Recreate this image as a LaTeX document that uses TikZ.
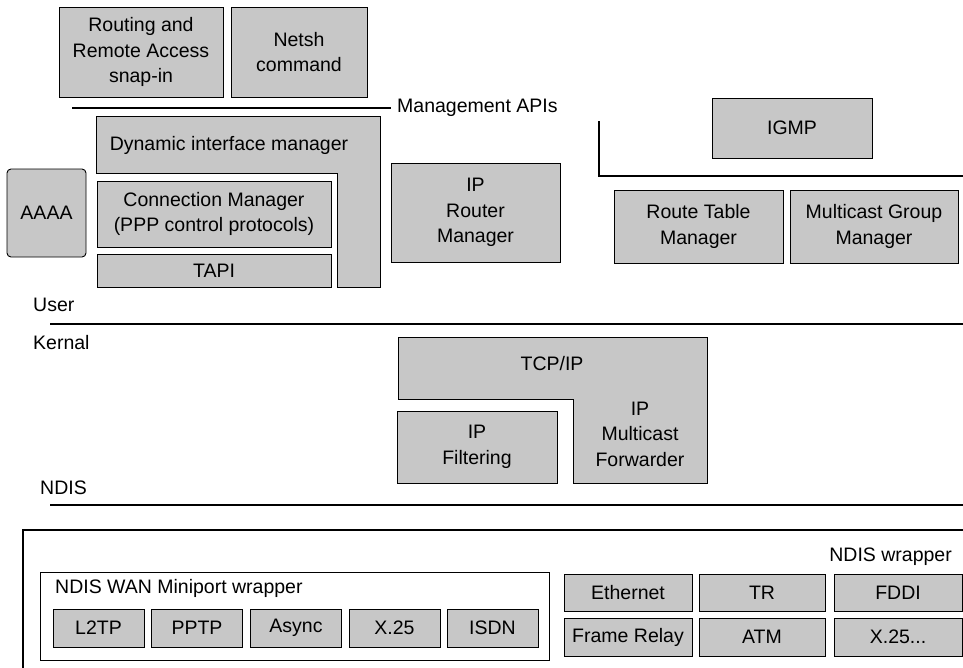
\documentclass[tikz,border=0pt]{standalone}
\usepackage{fontspec}
\setmainfont{Liberation Sans}
\usepackage{tikz}
\usetikzlibrary{positioning}

\begin{document}
\begin{tikzpicture}[font=\fontsize{19.5bp}{25.5bp}\selectfont,
  graybox/.style={draw,fill=black!22,line width=0.9bp,inner sep=0pt,align=center},
  layerline/.style={line width=1.6bp},
  plainlabel/.style={inner sep=0pt}]
\useasboundingbox (0bp,0bp) rectangle (963bp,-668bp);

% management tools
\node (RRAS) at (141bp,-52bp)[graybox,minimum width=164bp,minimum height=90bp] {Routing and\\Remote Access\\snap-in};
\node (Netsh) at (299bp,-52bp)[graybox,minimum width=136bp,minimum height=90bp] {Netsh\\command};
\node (MgmtAPI) at (397bp,-108bp)[plainlabel,anchor=west] {Management APIs};
\coordinate (MgmtStart) at (72bp,-108bp);
\draw [layerline] (MgmtStart) -- ([xshift=-6bp]MgmtAPI.west);

% user mode components
\draw [fill=black!22,line width=0.9bp] (96bp,-116bp) -- (380bp,-116bp) -- (380bp,-287bp) -- (337bp,-287bp) -- (337bp,-173bp) -- (96bp,-173bp) -- cycle;
\node (DIM) at (229bp,-145bp)[plainlabel] {Dynamic interface manager};
\node (AAAA) at (46.5bp,-213bp)[graybox,rounded corners=4bp,minimum width=79bp,minimum height=88bp] {AAAA};
\node (ConnMgr) at (214bp,-214bp)[graybox,minimum width=234bp,minimum height=66bp] {Connection Manager\\(PPP control protocols)};
\node (TAPI) at (214bp,-270.5bp)[graybox,minimum width=234bp,minimum height=33bp] {TAPI};
\node (IPRM) at (475.5bp,-212.5bp)[graybox,minimum width=169bp,minimum height=99bp] {IP\\Router\\Manager};
\node (IGMP) at (792bp,-128bp)[graybox,minimum width=160bp,minimum height=60bp] {IGMP};
\coordinate (BrTop) at (599bp,-121bp);
\coordinate (BrEnd) at (963bp,-176bp);
\draw [line width=1.3bp] (BrTop) |- (BrEnd);
\node (RTM) at (698.5bp,-226.5bp)[graybox,minimum width=169bp,minimum height=73bp] {Route Table\\Manager};
\node (MGM) at (874bp,-226.5bp)[graybox,minimum width=168bp,minimum height=73bp] {Multicast Group\\Manager};

% user / kernel boundary
\node (User) at (33bp,-305bp)[plainlabel,anchor=west] {User};
\node (Kernal) at (33bp,-343bp)[plainlabel,anchor=west] {Kernal};
\coordinate (UserL) at (50bp,-324bp);
\coordinate (UserR) at (963bp,-324bp);
\draw [layerline] (UserL) -- (UserR);

% kernel components
\draw [fill=black!22,line width=0.9bp] (398bp,-337bp) -- (707bp,-337bp) -- (707bp,-483bp) -- (573bp,-483bp) -- (573bp,-399bp) -- (398bp,-399bp) -- cycle;
\node (TCPIP) at (552bp,-364bp)[plainlabel] {TCP/IP};
\node (MFwd) at (640bp,-434bp)[plainlabel,align=center] {IP\\Multicast\\Forwarder};
\node (IPFilt) at (477bp,-447bp)[graybox,minimum width=160bp,minimum height=72bp] {IP\\Filtering};

% NDIS
\node (NDIS) at (40bp,-488bp)[plainlabel,anchor=west] {NDIS};
\coordinate (NdisL) at (50bp,-505bp);
\coordinate (NdisR) at (963bp,-505bp);
\draw [layerline] (NdisL) -- (NdisR);
\coordinate (WrapBot) at (23bp,-668bp);
\coordinate (WrapEnd) at (963bp,-530bp);
\draw [line width=1.3bp] (WrapBot) |- (WrapEnd);
\node (NdisWrap) at (952bp,-557bp)[plainlabel,anchor=east] {NDIS wrapper};

% WAN miniports
\node (WanBox) at (294.5bp,-616bp)[draw,line width=0.9bp,minimum width=509bp,minimum height=88bp] {};
\node (WanLbl) at (55bp,-588bp)[plainlabel,anchor=west] {NDIS WAN Miniport wrapper};
\node (L2TP) at (98.5bp,-628bp)[graybox,minimum width=91bp,minimum height=38bp] {L2TP};
\node (PPTP) at (197bp,-628bp)[graybox,minimum width=91bp,minimum height=38bp] {PPTP};
\node (Async) at (296bp,-628bp)[graybox,minimum width=91bp,minimum height=38bp] {Async};
\node (WanX25) at (394.5bp,-628bp)[graybox,minimum width=91bp,minimum height=38bp] {X.25};
\node (ISDN) at (492.5bp,-628bp)[graybox,minimum width=91bp,minimum height=38bp] {ISDN};

% LAN miniports
\node (Ether) at (628bp,-592.5bp)[graybox,minimum width=128bp,minimum height=37bp] {Ethernet};
\node (TR) at (762bp,-592.5bp)[graybox,minimum width=126bp,minimum height=37bp] {TR};
\node (FDDI) at (898bp,-592.5bp)[graybox,minimum width=128bp,minimum height=37bp] {FDDI};
\node (FRelay) at (628bp,-637bp)[graybox,minimum width=128bp,minimum height=38bp] {Frame Relay};
\node (ATM) at (762bp,-637bp)[graybox,minimum width=126bp,minimum height=38bp] {ATM};
\node (LanX25) at (898bp,-637bp)[graybox,minimum width=128bp,minimum height=38bp] {X.25...};
\end{tikzpicture}
\end{document}
